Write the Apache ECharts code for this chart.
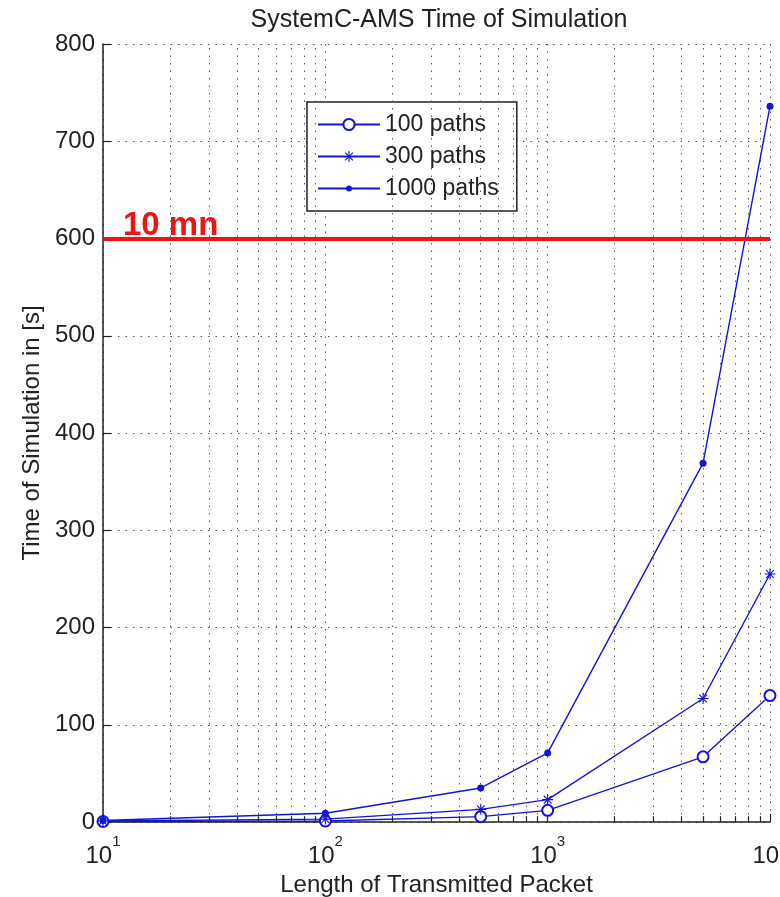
<!DOCTYPE html>
<html>
<head>
<meta charset="utf-8">
<script src="https://cdn.jsdelivr.net/npm/echarts@6/dist/echarts.min.js"></script>
<style>
html,body{margin:0;padding:0;background:#fff;}
#chart{width:780px;height:897px;}
</style>
</head>
<body>
<div id="chart"></div>
<script>
// ---- data ----
const packetLength = [10, 100, 500, 1000, 5000, 10000];
const paths100 = [0.5, 1, 5.5, 12, 67, 130];
const paths300 = [1, 3, 13, 23, 127, 255];
const paths1000 = [1.5, 9, 35, 71, 369, 736];
const seriesNames = ['100 paths', '300 paths', '1000 paths'];
const minorXTicks = [20,30,40,50,60,70,80,90,200,300,400,500,600,700,800,900,2000,3000,4000,5000,6000,7000,8000,9000];
const limitValue = 600;
const limitLabel = '10 mn';
const titleText = 'SystemC-AMS Time of Simulation';
const xName = 'Length of Transmitted Packet';
const yName = 'Time of Simulation in [s]';

const FONT = '"Liberation Sans", Arial, sans-serif';
const BLUE = '#1414d8';
const GRID = '#555';
const asterisk = 'path://M-1,-10L1,-10L1,10L-1,10Z M-10,-1L10,-1L10,1L-10,1Z M-6.36,-7.78L7.78,6.36L6.36,7.78L-7.78,-6.36Z M6.36,-7.78L7.78,-6.36L-6.36,7.78L-7.78,6.36Z';
// small dot inside a padded 20x20 box (degenerate corner segments keep the box)
const dot = 'path://M-10,-10L-10,-10 M10,10L10,10 M-5.4,0A5.4,5.4 0 1 1 5.4,0A5.4,5.4 0 1 1 -5.4,0Z';

const pairs = (ys) => packetLength.map((x, i) => [x, ys[i]]);

const gridLines = minorXTicks.map(v => ({xAxis: v}));
const tickMarks = minorXTicks.map(v => [{coord: [v, 0]}, {coord: [v, 6]}]);

const chart = echarts.init(document.getElementById('chart'));
chart.setOption({
  animation: false,
  backgroundColor: '#fff',
  title: {
    text: titleText,
    left: 434,
    top: 3,
    textAlign: 'center',
    textStyle: {fontFamily: FONT, fontSize: 25, fontWeight: 'normal', color: '#222'}
  },
  grid: {left: 103, right: 10, top: 44, bottom: 75, containLabel: false, outerBoundsMode: 'none'},
  legend: {
    data: seriesNames,
    orient: 'vertical',
    left: 307,
    top: 102,
    backgroundColor: '#fff',
    borderColor: '#222',
    borderWidth: 1.5,
    padding: [11, 18, 11, 10],
    itemWidth: 62,
    itemHeight: 14,
    itemGap: 9,
    textStyle: {fontFamily: FONT, fontSize: 23, color: '#222'}
  },
  xAxis: {
    type: 'log',
    logBase: 10,
    min: 10,
    max: 10000,
    name: xName,
    nameLocation: 'middle',
    nameGap: 51,
    nameTextStyle: {fontFamily: FONT, fontSize: 24, color: '#222'},
    axisLine: {show: true, lineStyle: {color: '#222', width: 1.5}},
    axisTick: {show: true, inside: true, length: 8, lineStyle: {color: '#222', width: 1.2}},
    axisLabel: {
      margin: 12,
      formatter: (v) => '{b|10}{s|' + Math.round(Math.log10(v)) + '}',
      rich: {
        b: {fontFamily: FONT, fontSize: 24, color: '#222', verticalAlign: 'bottom', lineHeight: 34},
        s: {fontFamily: FONT, fontSize: 15, color: '#222', verticalAlign: 'top', lineHeight: 34}
      }
    },
    splitLine: {show: true, lineStyle: {color: GRID, width: 1, type: [1.5, 6]}}
  },
  yAxis: {
    type: 'value',
    min: 0,
    max: 800,
    interval: 100,
    name: yName,
    nameLocation: 'middle',
    nameGap: 50,
    nameTextStyle: {fontFamily: FONT, fontSize: 24, color: '#222'},
    axisLine: {show: true, lineStyle: {color: '#222', width: 1.5}},
    axisTick: {show: true, inside: true, length: 8, lineStyle: {color: '#222', width: 1.2}},
    axisLabel: {margin: 8, fontFamily: FONT, fontSize: 24, color: '#222'},
    splitLine: {show: true, lineStyle: {color: GRID, width: 1, type: [1.5, 6]}}
  },
  series: [
    {
      name: seriesNames[0],
      type: 'line',
      data: pairs(paths100),
      symbol: 'emptyCircle',
      symbolSize: 11,
      z: 5,
      lineStyle: {color: BLUE, width: 1.4},
      itemStyle: {color: BLUE, borderWidth: 1.4},
      markLine: {
        silent: true,
        symbol: 'none',
        label: {show: false},
        lineStyle: {color: GRID, width: 1, type: [1.5, 6]},
        data: gridLines
      }
    },
    {
      name: seriesNames[1],
      type: 'line',
      data: pairs(paths300),
      symbol: asterisk,
      symbolSize: 11,
      z: 5,
      lineStyle: {color: BLUE, width: 1.4},
      itemStyle: {color: BLUE},
      markLine: {
        silent: true,
        symbol: 'none',
        label: {show: false},
        lineStyle: {color: '#222', width: 1.2, type: 'solid'},
        data: tickMarks
      }
    },
    {
      name: seriesNames[2],
      type: 'line',
      data: pairs(paths1000),
      symbol: dot,
      symbolSize: 13,
      z: 5,
      lineStyle: {color: BLUE, width: 1.4},
      itemStyle: {color: BLUE},
      markLine: {
        silent: true,
        symbol: 'none',
        z: 6,
        lineStyle: {color: '#ee1414', width: 4, type: 'solid'},
        label: {
          show: true,
          position: 'insideStartTop',
          formatter: limitLabel,
          distance: [20, -4],
          fontFamily: FONT,
          fontSize: 33,
          fontWeight: 'bold',
          color: '#ee1414'
        },
        data: [{yAxis: limitValue}]
      }
    }
  ]
});
</script>
</body>
</html>
